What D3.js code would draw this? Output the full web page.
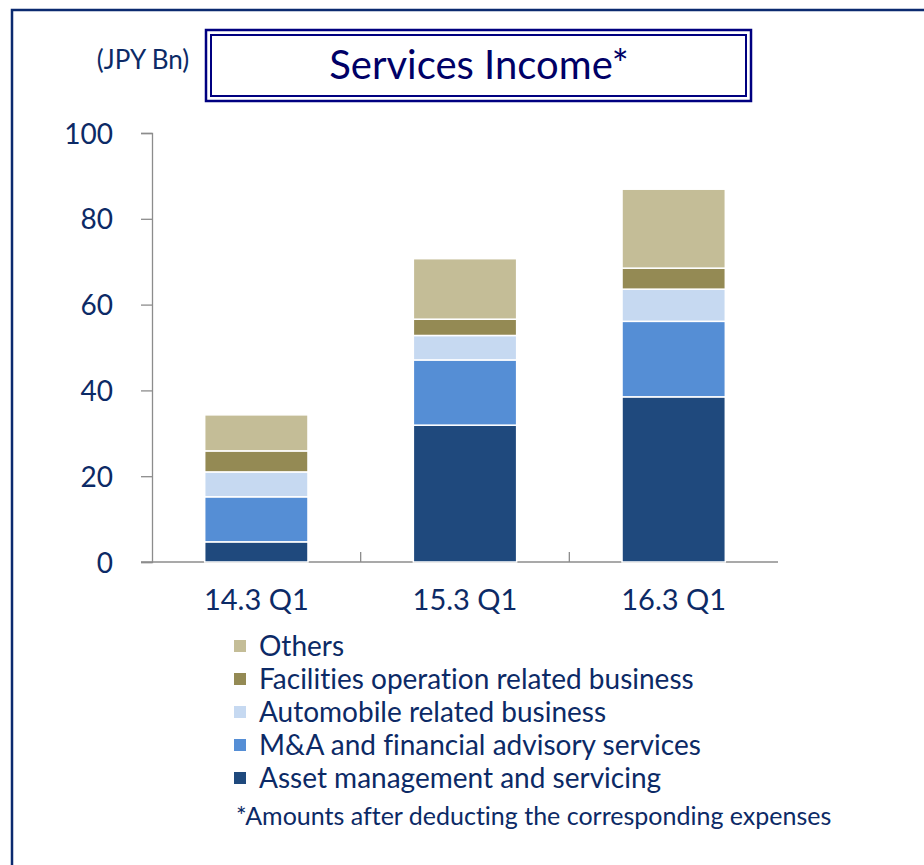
<!DOCTYPE html>
<html>
<head>
<meta charset="utf-8">
<script src="https://cdn.jsdelivr.net/npm/d3@7"></script>
<style>
  body { margin: 0; background: #fff; }
  svg { display: block; font-family: Lato, "Open Sans", sans-serif; font-variant-ligatures: none; font-feature-settings: "liga" 0, "clig" 0; }
</style>
</head>
<body>
<div id="chart"></div>
<script>
// data (JPY Bn)
var periods = ["14.3 Q1", "15.3 Q1", "16.3 Q1"];
var seriesNames = ["Asset management and servicing", "M&A and financial advisory services",
  "Automobile related business", "Facilities operation related business", "Others"];
var assetMgmt = [4.7, 31.9, 38.5];
var mnaAdvisory = [10.5, 15.2, 17.6];
var automobile = [5.8, 5.7, 7.5];
var facilities = [4.9, 3.8, 4.9];
var others = [8.4, 14.1, 18.4];
var seriesColors = ["#1f497d", "#558ed5", "#c6d9f1", "#948a54", "#c4bd97"];
var yTicks = [0, 20, 40, 60, 80, 100];

var W = 924, H = 865, navy = "#0c2a66";

var svg = d3.select("#chart").append("svg").attr("width", W).attr("height", H);

// outer frame (only top and left edges show)
svg.append("path")
  .attr("d", "M12,867 L12,10 L926,10")
  .attr("fill", "none").attr("stroke", "#0b2a6f").attr("stroke-width", 2.5);

// title box - double border
svg.append("rect").attr("x", 206).attr("y", 30).attr("width", 545).attr("height", 71)
  .attr("fill", "none").attr("stroke", "#000080").attr("stroke-width", 2.5);
svg.append("rect").attr("x", 211).attr("y", 35).attr("width", 535).attr("height", 61)
  .attr("fill", "none").attr("stroke", "#000080").attr("stroke-width", 2);
svg.append("text").attr("x", 479).attr("y", 79).attr("text-anchor", "middle")
  .attr("font-size", 40).attr("fill", "#000066").text("Services Income*");
svg.append("text").attr("x", 143).attr("y", 69).attr("text-anchor", "middle")
  .attr("font-size", 26).attr("fill", navy).text("(JPY Bn)");

var margin = {left: 152, right: 778, top: 133, bottom: 562};

var x = d3.scaleBand().domain(periods).range([margin.left, margin.right]).paddingInner(0.505).paddingOuter(0.2525);
var y = d3.scaleLinear().domain([0, 100]).range([margin.bottom, margin.top]);

var rows = periods.map(function(p, i) {
  return {period: p, s0: assetMgmt[i], s1: mnaAdvisory[i], s2: automobile[i], s3: facilities[i], s4: others[i]};
});
var stack = d3.stack().keys(["s0", "s1", "s2", "s3", "s4"]);
var layers = stack(rows);

// axes
var yAxis = svg.append("g").attr("transform", "translate(" + margin.left + ",0)")
  .call(d3.axisLeft(y).tickValues(yTicks).tickSize(11).tickPadding(28));
yAxis.select(".domain").attr("stroke", "#8c8c8c").attr("stroke-width", 1.3);
yAxis.selectAll(".tick line").attr("stroke", "#8c8c8c").attr("stroke-width", 1.3);
yAxis.selectAll(".tick text").attr("font-size", 28).attr("fill", navy)
  .attr("font-family", "Lato, sans-serif").attr("dy", "0.36em");

var xAxis = svg.append("g").attr("transform", "translate(0," + margin.bottom + ")");
xAxis.append("line").attr("x1", margin.left - 11).attr("x2", margin.right)
  .attr("stroke", "#8c8c8c").attr("stroke-width", 1.3);
// category separator ticks
var step = x.step();
periods.slice(1).forEach(function(p) {
  var tx = x(p) - x.paddingInner() * step / 2;
  xAxis.append("line").attr("x1", tx).attr("x2", tx).attr("y1", 0).attr("y2", -10)
    .attr("stroke", "#8c8c8c").attr("stroke-width", 1.3);
});
xAxis.selectAll(".cat").data(periods).enter().append("text")
  .attr("class", "cat")
  .attr("x", function(d) { return x(d) + x.bandwidth() / 2; })
  .attr("y", 48).attr("text-anchor", "middle")
  .attr("font-size", 29).attr("fill", navy).text(function(d) { return d; });

// bars
svg.append("g").selectAll("g").data(layers).enter().append("g")
  .attr("fill", function(d, i) { return seriesColors[i]; })
  .selectAll("rect").data(function(d) { return d; }).enter().append("rect")
  .attr("x", function(d) { return x(d.data.period); })
  .attr("width", x.bandwidth())
  .attr("y", function(d) { return y(d[1]); })
  .attr("height", function(d) { return y(d[0]) - y(d[1]); })
  .attr("stroke", "#fff").attr("stroke-width", 1.5);

// legend (reverse order, Others on top)
var legend = svg.append("g");
var legendItems = seriesNames.map(function(n, i) { return {name: n, color: seriesColors[i]}; }).reverse();
legendItems.forEach(function(d, i) {
  var cy = 646 + i * 33;
  legend.append("rect").attr("x", 234).attr("y", cy - 6).attr("width", 12).attr("height", 12)
    .attr("fill", d.color);
  legend.append("text").attr("x", 259).attr("y", cy).attr("dy", "0.36em")
    .attr("font-size", 28).attr("fill", navy).text(d.name);
});
legend.append("text").attr("x", 236).attr("y", 825)
  .attr("font-size", 25).attr("fill", navy).text("*Amounts after deducting the corresponding expenses");
</script>
</body>
</html>
